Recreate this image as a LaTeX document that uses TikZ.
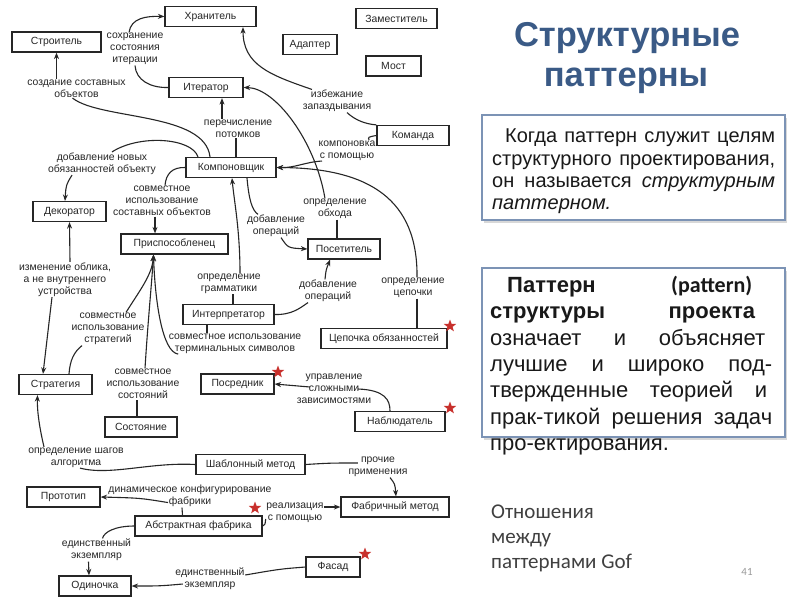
\documentclass[tikz,border=0pt]{standalone}
\usepackage{fontspec}
\setmainfont{Liberation Sans}
\newfontfamily\carlito{Carlito}
\usetikzlibrary{arrows.meta,shapes.geometric,shadows}
\definecolor{ink}{HTML}{262626}
\definecolor{titleblue}{HTML}{3A5A86}
\definecolor{panelblue}{HTML}{7C93B5}
\definecolor{starred}{HTML}{C8302C}
\definecolor{bodygray}{HTML}{404040}
\tikzset{
 pbox/.style={draw=ink, line width=1.2pt, fill=white, minimum height=20pt, inner sep=0pt, font=\fontsize{10.4}{12}\selectfont, text=ink},
 lbl/.style={align=center, inner sep=0.5pt, font=\fontsize{10.4}{12}\selectfont, text=ink},
 ln/.style={draw=ink, line width=1.1pt},
 arr/.style={-{Stealth[length=6.5pt,width=5pt]}},
 starsh/.style={star, star points=5, star point ratio=2.4, fill=starred, draw=none, minimum size=13pt, inner sep=0pt},
 panelbox/.style={draw=panelblue, line width=1.3pt, fill=white, inner sep=0pt, drop shadow={shadow xshift=2pt, shadow yshift=-3pt, opacity=0.3}},
 bodyline/.style={anchor=base west, inner sep=0pt, text=black!90},
}
\begin{document}
\begin{tikzpicture}[x=1pt,y=-1pt]
\useasboundingbox (0,0) rectangle (800,600);
\fill[white] (0,0) rectangle (800,600);

% ---------- boxes ----------
\node[pbox, minimum width=91pt] (khran) at (210.5,16.5) {Хранитель};
\node[pbox, minimum width=89pt] (stroit) at (56.5,42) {Строитель};
\node[pbox, minimum width=81pt] (zamest) at (396.5,18.5) {Заместитель};
\node[pbox, minimum width=54pt] (adapt) at (310,44.5) {Адаптер};
\node[pbox, minimum width=55pt] (most) at (393.5,66) {Мост};
\node[pbox, minimum width=74pt] (iter) at (206,87.5) {Итератор};
\node[pbox, minimum width=72pt] (komanda) at (413,135.5) {Команда};
\node[pbox, minimum width=90pt] (komp) at (231,167.5) {Компоновщик};
\node[pbox, minimum width=73pt] (decor) at (69.5,211.5) {Декоратор};
\node[pbox, minimum width=107pt] (prisp) at (174.5,244) {Приспособленец};
\node[pbox, minimum width=72pt] (posetit) at (344,249) {Посетитель};
\node[pbox, minimum width=91pt] (interp) at (228.5,314.5) {Интерпретатор};
\node[pbox, minimum width=126pt] (chain) at (384,338.5) {Цепочка обязанностей};
\node[pbox, minimum width=73pt] (posred) at (237.5,384) {Посредник};
\node[pbox, minimum width=90pt] (nabl) at (400,421.5) {Наблюдатель};
\node[pbox, minimum width=73pt] (strat) at (55.5,384.5) {Стратегия};
\node[pbox, minimum width=72pt] (stateN) at (141,427) {Состояние};
\node[pbox, minimum width=109pt] (shabl) at (250.5,464.5) {Шаблонный метод};
\node[pbox, minimum width=73pt] (proto) at (63.5,497) {Прототип};
\node[pbox, minimum width=127pt] (abst) at (198.5,526) {Абстрактная фабрика};
\node[pbox, minimum width=108pt] (fabm) at (395,507) {Фабричный метод};
\node[pbox, minimum width=72pt] (odin) at (95,586) {Одиночка};
\node[pbox, minimum width=54pt] (fasad) at (333,567) {Фасад};

% ---------- labels ----------
\node[lbl] (lSave) at (135,49) {сохранение\\состояния\\итерации};
\node[lbl] (lBuild) at (76.5,88.5) {создание составных\\объектов};
\node[lbl] (lEnum) at (238,128.5) {перечисление\\потомков};
\node[lbl] (lDecor) at (102,163.5) {добавление новых\\обязанностей объекту};
\node[lbl] (lShare) at (162,201) {совместное\\использование\\составных объектов};
\node[lbl] (lComp) at (347,150.5) {компоновка\\с помощью};
\node[lbl] (lAvoid) at (337,101) {избежание\\запаздывания};
\node[lbl] (lTrav) at (335,209) {определение\\обхода};
\node[lbl] (lAddOp1) at (276,226) {добавление\\операций};
\node[lbl] (lChain) at (413,288) {определение\\цепочки};
\node[lbl] (lGram) at (229,283.5) {определение\\грамматики};
\node[lbl] (lAddOp2) at (328,291) {добавление\\операций};
\node[lbl] (lTerm) at (235,343.5) {совместное использование\\терминальных символов};
\node[lbl] (lStrat) at (108,329) {совместное\\использование\\стратегий};
\node[lbl] (lState) at (143,384) {совместное\\использование\\состояний};
\node[lbl] (lLook) at (65,279.5) {изменение облика,\\а не внутреннего\\устройства};
\node[lbl] (lManage) at (334,389) {управление\\сложными\\зависимостями};
\node[lbl] (lSteps) at (76,457.5) {определение шагов\\алгоритма};
\node[lbl] (lOther) at (378,467) {прочие\\применения};
\node[lbl] (lDyn) at (190,496) {динамическое конфигурирование\\фабрики};
\node[lbl] (lReal) at (295,513) {реализация\\с помощью};
\node[lbl] (lSingle1) at (96.5,550) {единственный\\экземпляр};
\node[lbl] (lSingle2) at (210,579) {единственный\\экземпляр};

% ---------- connectors ----------
\draw[ln] (iter.west) .. controls (150,88) and (136,80) .. (lSave.south);
\draw[ln,arr] ([xshift=-6]lSave.north) .. controls (131,18) and (146,16) .. (khran.west);

\draw[ln,arr] (lBuild.north -| stroit.south) -- (stroit.south);
\draw[ln] ([xshift=-4]lBuild.south) .. controls (100,120) and (205,112) .. ([xshift=-21]komp.north);

\draw[ln] ([xshift=5]komp.north) .. controls (236,150) .. ([xshift=-2]lEnum.south);
\draw[ln,arr] ([xshift=-16]lEnum.north) -- ([xshift=16]iter.south);

\draw[ln] ([xshift=-33]komp.north) .. controls (192,138) and (140,134) .. ([xshift=10]lDecor.north);
\draw[ln,arr] ([xshift=-30]lDecor.south) .. controls (66,185) .. ([xshift=-4.5]decor.north);

\draw[ln] (komp.west) .. controls (172,167) and (166,174) .. ([xshift=3]lShare.north);
\draw[ln,arr] ([xshift=-7]lShare.south) -- ([xshift=-19.5]prisp.north);

\draw[ln] (komanda.west) .. controls (368,137) .. ([xshift=22]lComp.north);
\draw[ln,arr] ([xshift=-25]lComp.south) .. controls (305,162) and (295,168) .. (komp.east);

\draw[ln,arr] ([xshift=-25]lAvoid.north) .. controls (270,75) and (243,65) .. ([xshift=32.5]khran.south);
\draw[ln] ([xshift=10]lAvoid.south) .. controls (355,120) and (365,124) .. (komanda.north west);

\draw[ln,arr] ([xshift=-10]lTrav.north) .. controls (315,140) and (275,88) .. (iter.east);
\draw[ln] ([xshift=2]lTrav.south) -- ([xshift=-7]posetit.north);

\draw[ln] ([xshift=16]komp.south) .. controls (249,200) and (252,210) .. ([xshift=-18]lAddOp1.north);
\draw[ln,arr] ([xshift=5]lAddOp1.south) .. controls (288,248) .. (posetit.west);

\draw[ln,arr] ([xshift=4]lChain.north) .. controls (418,200) and (370,168) .. (komp.east);
\draw[ln] ([xshift=4]lChain.south) -- ([xshift=33]chain.north);

\draw[ln,arr] ([xshift=11]lGram.north) .. controls (240,230) and (234,200) .. ([xshift=1]komp.south);
\draw[ln] ([xshift=4.5]interp.north) -- ([xshift=4]lGram.south);

\draw[ln] (interp.east) .. controls (292,315) and (300,308) .. ([xshift=-20]lAddOp2.south);
\draw[ln,arr] ([xshift=-3]lAddOp2.north) .. controls (326,270) .. ([xshift=-14]posetit.south);

\draw[ln] ([xshift=-21.5]interp.south) -- ([xshift=-28]lTerm.north);
\draw[ln,arr] ([xshift=10]lTerm.south west) .. controls (162,352) and (155,300) .. ([xshift=-21]prisp.south);

\draw[ln] ([xshift=13.5]strat.north) .. controls (70,360) and (74,352) .. ([xshift=-26]lStrat.south);
\draw[ln,arr] ([xshift=18]lStrat.north) .. controls (140,290) and (152,275) .. ([xshift=-21]prisp.south);

\draw[ln] ([xshift=-4]stateN.north) -- ([xshift=-6]lState.south);
\draw[ln,arr] ([xshift=2]lState.north) .. controls (148,320) and (152,280) .. ([xshift=-21]prisp.south);

\draw[ln,arr] ([xshift=5]lLook.north) -- (decor.south);
\draw[ln,arr] ([xshift=-13]lLook.south) -- ([xshift=-12.5]strat.north);

\draw[ln,arr] ([xshift=-24,yshift=2]lManage.center) -- (posred.east);
\draw[ln] ([xshift=24]lManage.center) .. controls (385,390) and (390,400) .. ([xshift=-10]nabl.north);

\draw[ln,arr] ([xshift=-32]lSteps.north) .. controls (40,430) and (37,412) .. ([xshift=-18]strat.south);
\draw[ln] (shabl.west) .. controls (150,462) and (110,476) .. ([xshift=4]lSteps.south);

\draw[ln] (shabl.east) .. controls (330,463) .. ([xshift=10,yshift=4]lOther.west);
\draw[ln,arr] ([xshift=12]lOther.south) .. controls (395,484) .. ([xshift=1]fabm.north);

\draw[ln,arr] ([xshift=-22,yshift=5]lDyn.south) .. controls (140,498) .. (proto.east);
\draw[ln] ([xshift=-8]lDyn.south) .. controls (183,512) .. ([xshift=-16]abst.north);

\draw[ln] (abst.east) .. controls (265,525) .. ([yshift=-6]lReal.west);
\draw[ln,arr] ([yshift=6]lReal.east) -- (fabm.west);

\draw[ln] (abst.west) .. controls (115,526) and (104,532) .. ([xshift=6]lSingle1.north);
\draw[ln,arr] ([xshift=-8]lSingle1.south) -- ([xshift=-6]odin.north);

\draw[ln] (fasad.west) .. controls (280,569) .. ([yshift=4]lSingle2.east);
\draw[ln,arr] ([xshift=8,yshift=-5]lSingle2.west) .. controls (160,586) .. (odin.east);

% ---------- stars ----------
\node[starsh] (st1) at (450,326) {};
\node[starsh] (st2) at (278,372) {};
\node[starsh] (st3) at (450,408) {};
\node[starsh] (st4) at (255,508) {};
\node[starsh] (st5) at (365,554) {};

% ---------- right panel ----------
\node[anchor=base, inner sep=0pt, text=titleblue, font=\fontsize{34.5}{40}\selectfont\bfseries] (title1) at (627,46) {Структурные};
\node[anchor=base, inner sep=0pt, text=titleblue, font=\fontsize{34.5}{40}\selectfont\bfseries] (title2) at (626,86) {паттерны};

\node[panelbox, minimum width=303pt, minimum height=105pt] (box1) at (633.5,167.5) {};
\begin{scope}[every node/.style={bodyline, font=\fontsize{20}{23}\selectfont}]
\node (t11) at (505,142) {\hbox to 270pt{Когда\hfill паттерн\hfill служит\hfill целям}};
\node (t12) at (492,165) {\hbox to 283pt{структурного\hfill проектирования,}};
\node (t13) at (492,187) {\hbox to 283pt{он\hfill называется\hfill \textit{структурным}}};
\node (t14) at (492,209) {\textit{паттерном.}};
\end{scope}

\node[panelbox, minimum width=303pt, minimum height=169pt] (box2) at (633.5,352.5) {};
\begin{scope}[every node/.style={bodyline, font=\fontsize{22}{26}\selectfont}]
\node (t21) at (507,292) {\hbox to 245pt{\textbf{Паттерн}\hfill{\carlito\bfseries (pattern)}}};
\node (t22) at (490,318) {\hbox to 265pt{\textbf{структуры}\hfill\textbf{проекта}}};
\node (t23) at (490,345) {\hbox to 275pt{означает\hfill и\hfill объясняет}};
\node (t24) at (490,371) {\hbox to 282pt{лучшие\hfill и\hfill широко\hfill под-}};
\node (t25) at (490,397) {\hbox to 277pt{твержденные\hfill теорией\hfill и}};
\node (t26) at (490,424) {\hbox to 282pt{прак-тикой\hfill решения\hfill задач}};
\node (t27) at (490,450) {про-ектирования.};
\end{scope}

\begin{scope}[every node/.style={bodyline, text=bodygray, font=\carlito\fontsize{21}{25}\selectfont}]
\node (o1) at (491,518) {Отношения};
\node (o2) at (491,543) {между};
\node (o3) at (491,568) {паттернами Gof};
\end{scope}
\node[inner sep=0pt, text=black!40, font=\carlito\fontsize{11}{13}\selectfont] (pnum) at (747,572) {41};
\end{tikzpicture}
\end{document}
